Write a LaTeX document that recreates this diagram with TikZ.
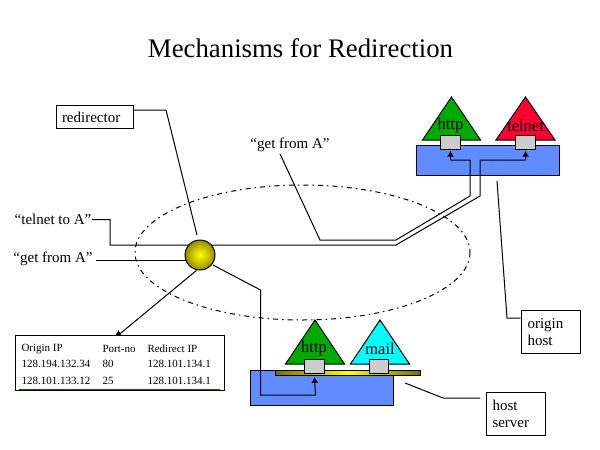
\documentclass[tikz,border=0pt]{standalone}
\usepackage{fontspec}
\usetikzlibrary{arrows.meta}
\setmainfont{Liberation Serif}
\definecolor{hostblue}{RGB}{96,140,255}
\definecolor{portgray}{RGB}{204,204,204}
\definecolor{svcgreen}{RGB}{0,170,0}
\definecolor{svcred}{RGB}{255,0,51}
\definecolor{svccyan}{RGB}{0,255,255}
\definecolor{ballolive}{RGB}{120,110,0}
\definecolor{ballrim}{RGB}{150,140,0}
\tikzset{
  labelbox/.style={draw,fill=white,align=left,font=\fontsize{15}{17}\selectfont,inner ysep=0pt,anchor=north west},
  plain/.style={font=\fontsize{15}{16}\selectfont,inner sep=0pt},
  svctext/.style={font=\fontsize{16.5}{18}\selectfont,inner sep=0pt},
  tabletext/.style={font=\fontsize{11}{12}\selectfont,inner sep=0pt,anchor=west},
  portbox/.style={draw,fill=portgray,minimum width=#1,minimum height=14.5pt,inner sep=0pt},
  hostbox/.style={draw,fill=hostblue,inner sep=0pt},
  svc/.style={draw,line join=miter}
}
\begin{document}
\begin{tikzpicture}[x=1pt,y=-1pt,line width=1pt,>={Latex[length=5.5pt,width=7pt]}]
\useasboundingbox (0,0) rectangle (600,450);
\node[font=\fontsize{26.8}{30}\selectfont,inner sep=0pt] (title) at (300.5,48) {Mechanisms for Redirection};
% the ring
\draw[dash pattern=on 5pt off 4pt on 1.5pt off 4pt] (302.5,252.5) ellipse (167.5 and 67.5);
% labels
\node[labelbox,text width=66pt,minimum height=23pt,inner xsep=5.5pt] (redirector) at (56,105) {redirector};
\node[plain] (getupper) at (290,144.5) {“get from A”};
\node[plain] (telnetA) at (53,219.5) {“telnet to A”};
\node[plain] (getlower) at (53,258.5) {“get from A”};
% upper host
\node[hostbox,minimum width=143pt,minimum height=30.5pt] (originhost) at (488,160.3) {};
\draw[svc,fill=svcgreen] (451.5,97) -- (480.5,140) -- (422.5,140) -- cycle;
\draw[svc,fill=svcred] (525.5,97) -- (555,140) -- (496,140) -- cycle;
\node[svctext] (httpA) at (450.5,126) {http};
\node[svctext] (telnetB) at (525.5,126) {telnet};
\node[portbox=20pt] (porthttpA) at (450.5,142.3) {};
\node[portbox=19.5pt] (porttelnet) at (525.7,142.3) {};
% lower host
\node[hostbox,minimum width=143pt,minimum height=35.5pt] (serverhost) at (322,387.8) {};
\draw[draw=black,left color=ballolive,right color=ballolive,middle color=yellow] (275.5,370) rectangle (420.5,375.5);
\draw[svc,fill=svcgreen] (315,320) -- (344.5,364) -- (285.5,364) -- cycle;
\draw[svc,fill=svccyan] (380,320) -- (409.5,364) -- (350.5,364) -- cycle;
\node[svctext] (httpB) at (314,349) {http};
\node[svctext] (mail) at (380,349) {mail};
\node[portbox=20.5pt] (porthttpB) at (314.3,366.5) {};
\node[portbox=19.5pt] (portmail) at (378.8,366.5) {};
% the table
\node[draw,fill=white,minimum width=209pt,minimum height=55pt,inner sep=0pt] (redirtable) at (120,362.5) {};
\draw[color=green!40!black] (19,389) -- (220,389);
\node[tabletext] (orig) at (21,349) {Origin IP};
\node[tabletext] (port) at (102,349) {Port-no};
\node[tabletext] (redir) at (147,349) {Redirect IP};
\node[tabletext] (origa) at (21,364) {128.194.132.34};
\node[tabletext] (porta) at (102,364) {80};
\node[tabletext] (redira) at (147,364) {128.101.134.1};
\node[tabletext] (origb) at (21,381) {128.101.133.12};
\node[tabletext] (portb) at (102,381) {25};
\node[tabletext] (redirb) at (147,381) {128.101.134.1};
% side boxes
\node[labelbox,text width=46pt,minimum height=43pt,inner xsep=6.5pt] (originbox) at (520.5,310) {origin\\host};
\node[labelbox,text width=46pt,minimum height=43pt,inner xsep=6.5pt] (serverbox) at (485.5,391.5) {host\\server};
% connectors
\draw (redirector.east |- 0,110) -- (166,110) -- (197,235);
\draw[line join=miter] (telnetA.east) -- (110,219.5) -- (110,245) -- (396,245) -- (480,196) -- (480,160) -- (525.5,160) edge[->,shorten >=1pt] (porttelnet.south);
\draw (getupper.south)+(-10,2) -- (320,240) -- (396,240) -- (470,196) -- (470,160) -- (450.5,160) edge[->,shorten >=1pt] (porthttpA.south);
\draw (getlower.east)+(3,1.5) -- (186,260);
\draw (213,265) -- (260.5,290) -- (260.5,395) -- (315.5,395) edge[->,shorten >=3pt] (porthttpB.south);
\draw[->] (197,270) -- (118.5,335) -- (118.5,330);
\draw (497,181) -- (507,318) -- (originbox.west |- 0,318);
\draw (405,383) -- (443,398) -- (480,398);
% the redirector
\node[circle,draw,minimum size=30pt,inner sep=0pt,inner color=yellow,outer color=ballrim] (ball) at (200,255) {};
\end{tikzpicture}
\end{document}
